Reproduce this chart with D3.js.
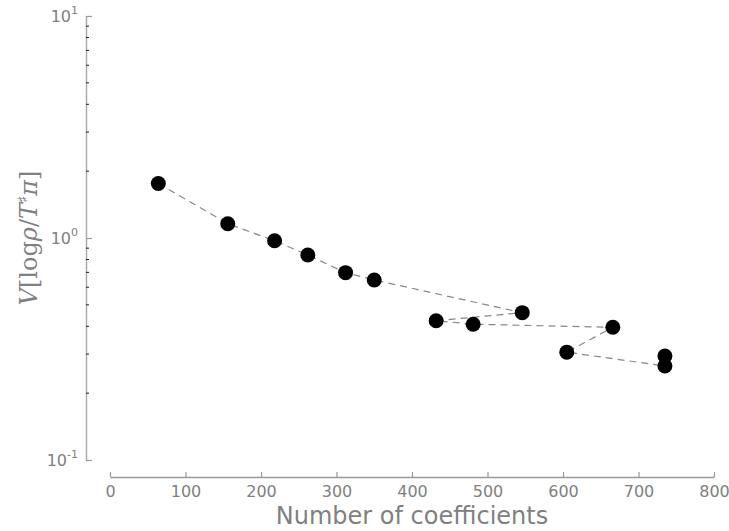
<!DOCTYPE html>
<html>
<head>
<meta charset="utf-8">
<script src="https://cdn.jsdelivr.net/npm/d3@7"></script>
<style>
  body { margin: 0; background: #fff; }
  text { font-family: "DejaVu Sans", sans-serif; fill: #808080; }
</style>
</head>
<body>
<div id="chart"></div>
<script>
var width = 729;
var height = 531;

// points in the order they are joined by the dashed line
var coefficients = [64, 156, 218, 262, 312, 350, 546, 432, 481, 666, 605, 735, 735];
var errors = [1.76, 1.16, 0.972, 0.838, 0.698, 0.647, 0.461, 0.424, 0.409, 0.396, 0.306, 0.265, 0.294];

var xTicks = [0, 100, 200, 300, 400, 500, 600, 700, 800];
var yTicks = [0.1, 1, 10];
var yExponents = ["-1", "0", "1"];

var x = d3.scaleLinear().domain([0, 800]).range([110, 714]);
var y = d3.scaleLog().domain([0.1, 10]).range([460, 16]);

var svg = d3.select("#chart").append("svg").attr("width", width).attr("height", height);

// x axis, detached below the plot, ticks pointing up
var xAxis = svg.append("g").attr("transform", "translate(0,477)")
    .call(d3.axisBottom(x).tickValues(xTicks).tickSizeInner(-5).tickSizeOuter(0).tickPadding(9));
xAxis.select(".domain").attr("stroke", "#999").attr("stroke-width", 1.3);
xAxis.selectAll(".tick line").attr("stroke", "#999").attr("stroke-width", 1.2);
xAxis.selectAll(".tick text").attr("font-size", 16).attr("fill", "#808080")
    .style("font-family", "'DejaVu Sans', sans-serif");

// y axis, log scale, ticks pointing right
var yAxis = svg.append("g").attr("transform", "translate(86,0)")
    .call(d3.axisLeft(y).tickValues(yTicks).tickSizeInner(-6).tickSizeOuter(0).tickFormat(""));
yAxis.select(".domain").attr("stroke", "#aaa").attr("stroke-width", 1.5);
yAxis.selectAll(".tick line").attr("stroke", "#999").attr("stroke-width", 1.2);

var minor = [];
[0.1, 1].forEach(function(d) {
  for (var k = 2; k <= 9; k++) minor.push(d * k);
});
yAxis.selectAll(".minor").data(minor).enter().append("line")
    .attr("class", "minor")
    .attr("x1", 0).attr("x2", 3)
    .attr("y1", function(d) { return y(d); }).attr("y2", function(d) { return y(d); })
    .attr("stroke", "#222").attr("stroke-width", 1);

var yLabels = svg.append("g");
yTicks.forEach(function(d, i) {
  var t = yLabels.append("text")
      .attr("x", 78).attr("y", y(d) + 6)
      .attr("text-anchor", "end").attr("font-size", 16);
  t.append("tspan").text("10");
  t.append("tspan").attr("dy", -8).attr("font-size", 11).text(yExponents[i]);
});

// axis titles
svg.append("text")
    .attr("x", (x(0) + x(800)) / 2).attr("y", 524)
    .attr("text-anchor", "middle").attr("font-size", 24)
    .text("Number of coefficients");

var yTitle = svg.append("text")
    .attr("transform", "translate(37," + ((y(0.1) + y(10)) / 2) + ") rotate(-90)")
    .attr("text-anchor", "middle").attr("font-size", 24)
    .style("font-family", "'DejaVu Serif', serif");
yTitle.append("tspan").attr("font-style", "italic").text("V");
yTitle.append("tspan").text("[log");
yTitle.append("tspan").attr("font-style", "italic").text("ρ");
yTitle.append("tspan").text("/");
yTitle.append("tspan").attr("font-style", "italic").text("T");
yTitle.append("tspan").attr("dy", -9).attr("font-size", 15).text("♯");
yTitle.append("tspan").attr("dy", 9).attr("font-style", "italic").text("π");
yTitle.append("tspan").text("]");

// data
var points = coefficients.map(function(c, i) { return [c, errors[i]]; });

var line = d3.line()
    .x(function(d) { return x(d[0]); })
    .y(function(d) { return y(d[1]); });

svg.append("path").datum(points)
    .attr("d", line)
    .attr("fill", "none")
    .attr("stroke", "#888")
    .attr("stroke-width", 1.2)
    .attr("stroke-dasharray", "7,5");

svg.append("g").selectAll("circle").data(points).enter().append("circle")
    .attr("cx", function(d) { return x(d[0]); })
    .attr("cy", function(d) { return y(d[1]); })
    .attr("r", 7.5)
    .attr("fill", "black");
</script>
</body>
</html>
